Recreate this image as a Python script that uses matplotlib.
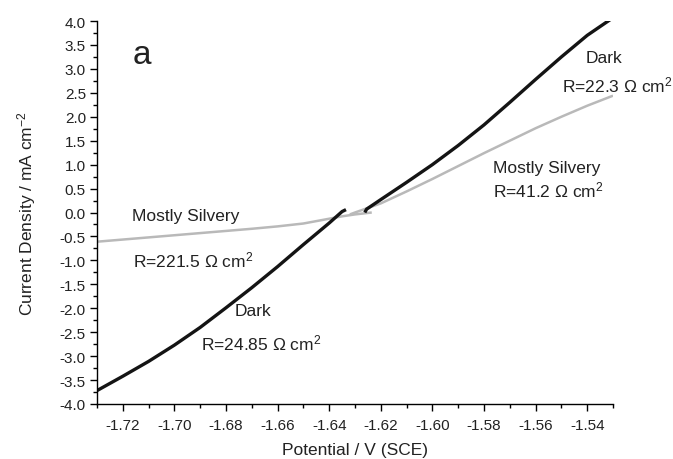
import matplotlib

matplotlib.use("Agg")
import matplotlib.pyplot as plt
from matplotlib.ticker import MultipleLocator, FormatStrFormatter

# Polarisation curves (potential in V vs SCE, current density in mA cm^-2)
dark_cath_E = [-1.730, -1.720, -1.710, -1.700, -1.690, -1.680, -1.670,
               -1.660, -1.650, -1.640, -1.635, -1.6335]
dark_cath_i = [-3.72, -3.42, -3.11, -2.77, -2.40, -1.99, -1.57,
               -1.13, -0.67, -0.22, 0.02, 0.06]

dark_anod_E = [-1.6262, -1.6255, -1.620, -1.610, -1.600, -1.590, -1.580,
               -1.570, -1.560, -1.550, -1.540, -1.5305]
dark_anod_i = [0.00, 0.07, 0.27, 0.63, 1.00, 1.40, 1.83,
               2.30, 2.78, 3.25, 3.70, 4.05]

silv_cath_E = [-1.730, -1.720, -1.710, -1.700, -1.690, -1.680, -1.670,
               -1.660, -1.650, -1.645, -1.640, -1.635, -1.630, -1.6235]
silv_cath_i = [-0.61, -0.565, -0.52, -0.475, -0.43, -0.385, -0.34,
               -0.29, -0.23, -0.18, -0.13, -0.08, -0.04, 0.00]

silv_anod_E = [-1.632, -1.630, -1.620, -1.610, -1.600, -1.590, -1.580,
               -1.570, -1.560, -1.550, -1.540, -1.530]
silv_anod_i = [-0.04, 0.00, 0.19, 0.44, 0.70, 0.97, 1.24,
               1.50, 1.76, 2.00, 2.23, 2.44]

INK = "#141414"
GREY = "#b9b9b9"

plt.rcParams.update({
    "font.family": ["Liberation Sans", "DejaVu Sans"],
    "mathtext.fontset": "custom",
    "mathtext.rm": "Liberation Sans",
    "mathtext.default": "regular",
    "axes.unicode_minus": False,
    "axes.spines.top": False,
    "axes.spines.right": False,
    "axes.linewidth": 1.0,
})

fig = plt.figure(figsize=(6.73, 4.6), dpi=100)
ax = fig.add_axes([97 / 673, 55 / 460, 516 / 673, 383 / 460])

ax.plot(silv_cath_E, silv_cath_i, color=GREY, lw=1.8, solid_capstyle="butt")
ax.plot(silv_anod_E, silv_anod_i, color=GREY, lw=1.8, solid_capstyle="butt")
ax.plot(dark_cath_E, dark_cath_i, color=INK, lw=2.4, solid_capstyle="butt")
ax.plot(dark_anod_E, dark_anod_i, color=INK, lw=2.4, solid_capstyle="butt")

ax.set_xlim(-1.73, -1.53)
ax.set_ylim(-4.0, 4.0)
ax.xaxis.set_major_locator(MultipleLocator(0.02))
ax.xaxis.set_minor_locator(MultipleLocator(0.01))
ax.yaxis.set_major_locator(MultipleLocator(0.5))
ax.yaxis.set_minor_locator(MultipleLocator(0.25))
ax.xaxis.set_major_formatter(FormatStrFormatter("%.2f"))
ax.yaxis.set_major_formatter(FormatStrFormatter("%.1f"))
ax.tick_params(which="major", direction="out", length=5, width=1.0,
               labelsize=11, color="black", labelcolor="#222222")
ax.tick_params(which="minor", direction="out", length=3, width=1.0)
ax.tick_params(axis="y", pad=3)
ax.tick_params(axis="x", pad=5)

ax.set_xlabel("Potential / V (SCE)", fontsize=12.5, color="#222222")
ax.set_ylabel("Current Density / mA cm$^{-2}$", fontsize=12.5, color="#222222")
ax.xaxis.set_label_coords(0.5, -0.1)
ax.yaxis.set_label_coords(-0.115, 0.5)

txt = dict(fontsize=12.5, color="#222222", ha="center", va="center")
ax.text(-1.7125, 3.31, "a", fontsize=24, color="#222222", ha="center", va="center")
ax.text(-1.6958, -0.07, "Mostly Silvery", **txt)
ax.text(-1.6927, -0.99, "R=221.5 Ω cm$^{2}$", **txt)
ax.text(-1.6694, -2.04, "Dark", **txt)
ax.text(-1.6663, -2.72, "R=24.85 Ω cm$^{2}$", **txt)
ax.text(-1.5335, 3.23, "Dark", **txt)
ax.text(-1.5284, 2.68, "R=22.3 Ω cm$^{2}$", **txt)
ax.text(-1.5556, 0.93, "Mostly Silvery", **txt)
ax.text(-1.5549, 0.49, "R=41.2 Ω cm$^{2}$", **txt)

fig.savefig("out.png", dpi=100)
